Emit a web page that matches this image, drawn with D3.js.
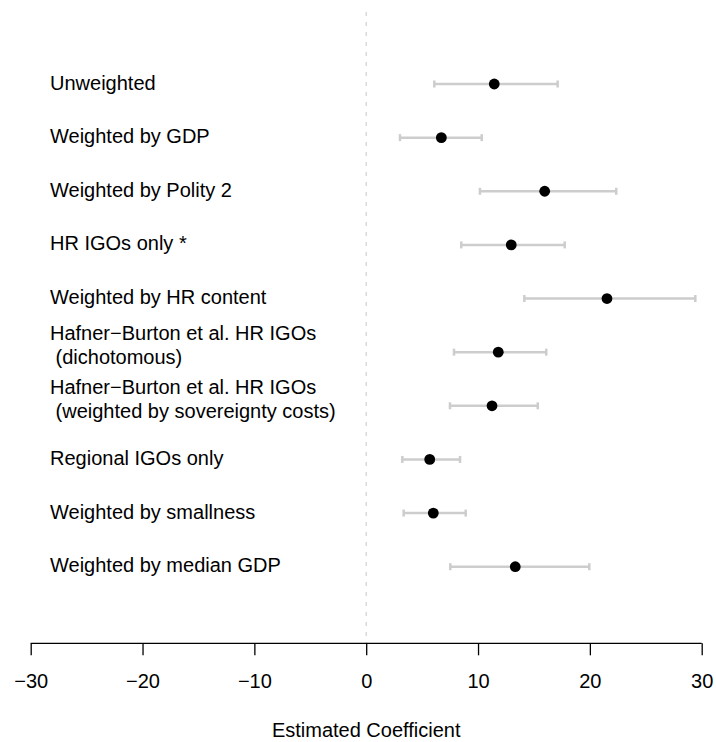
<!DOCTYPE html>
<html>
<head>
<meta charset="utf-8">
<script src="https://cdn.jsdelivr.net/npm/d3@7"></script>
<style>
  html, body { margin: 0; padding: 0; background: #fff; }
  svg { display: block; }
  text { font-family: "Liberation Sans", Arial, Helvetica, sans-serif; fill: #000; }
</style>
</head>
<body>
<svg id="chart" width="716" height="742"></svg>
<script>
// Model specifications (one row each, top to bottom)
const labels = [
  ["Unweighted"],
  ["Weighted by GDP"],
  ["Weighted by Polity 2"],
  ["HR IGOs only *"],
  ["Weighted by HR content"],
  ["Hafner\u2212Burton et al. HR IGOs", " (dichotomous)"],
  ["Hafner\u2212Burton et al. HR IGOs", " (weighted by sovereignty costs)"],
  ["Regional IGOs only"],
  ["Weighted by smallness"],
  ["Weighted by median GDP"]
];
// Point estimates and interval bounds
const estimates = [11.45, 6.72, 15.96, 12.97, 21.53, 11.81, 11.25, 5.68, 6.00, 13.33];
const lower     = [6.09, 3.02, 10.17, 8.50, 14.14, 7.85, 7.49, 3.23, 3.35, 7.52];
const upper     = [17.12, 10.33, 22.36, 17.75, 29.43, 16.10, 15.34, 8.39, 8.90, 19.95];
const xTicks = [-30, -20, -10, 0, 10, 20, 30];
const xTitle = "Estimated Coefficient";

const svg = d3.select("#chart");

const x = d3.scaleLinear().domain([-30, 30]).range([30.7, 701.7]);
const rows = d3.range(labels.length);
const y = d3.scaleLinear().domain([0, labels.length - 1]).range([84, 566.7]);

const plotTop = 12, plotBottom = 643.3;

// Reference line at zero
svg.append("line")
  .attr("x1", x(0)).attr("x2", x(0))
  .attr("y1", plotTop).attr("y2", plotBottom)
  .attr("stroke", "#c8c8c8")
  .attr("stroke-width", 1)
  .attr("stroke-dasharray", "4,6");

// Bottom axis
const axis = d3.axisBottom(x)
  .tickValues(xTicks)
  .tickSize(12)
  .tickPadding(20)
  .tickFormat(d => d < 0 ? "\u2212" + Math.abs(d) : String(d));

const gAxis = svg.append("g")
  .attr("transform", `translate(0,${plotBottom})`)
  .call(axis);
gAxis.select(".domain").attr("stroke", "#000").attr("stroke-width", 1.3)
  .attr("d", `M${x(-30)},0H${x(30)}`);
gAxis.selectAll(".tick line").attr("stroke", "#000").attr("stroke-width", 1.3);
gAxis.selectAll(".tick text")
  .attr("font-size", 20)
  .attr("font-family", "'Liberation Sans', Arial, sans-serif")
  .attr("fill", "#000")
  .attr("dy", null)
  .attr("y", 44.5);

svg.append("text")
  .attr("x", (x(-30) + x(30)) / 2)
  .attr("y", 737)
  .attr("text-anchor", "middle")
  .attr("font-size", 20)
  .text(xTitle);

// Interval bars with end caps
const bars = svg.append("g");
rows.forEach(i => {
  const yy = y(i);
  bars.append("line")
    .attr("x1", x(lower[i])).attr("x2", x(upper[i]))
    .attr("y1", yy).attr("y2", yy)
    .attr("stroke", "#cdcdcd").attr("stroke-width", 2.5);
  [lower[i], upper[i]].forEach(v => {
    bars.append("line")
      .attr("x1", x(v)).attr("x2", x(v))
      .attr("y1", yy - 3.5).attr("y2", yy + 3.5)
      .attr("stroke", "#cdcdcd").attr("stroke-width", 2.5);
  });
});

// Point estimates
svg.append("g").selectAll("circle")
  .data(rows)
  .join("circle")
  .attr("cx", i => x(estimates[i]))
  .attr("cy", i => y(i))
  .attr("r", 5.4)
  .attr("fill", "#000");

// Row labels
const gLab = svg.append("g");
rows.forEach(i => {
  const lines = labels[i];
  const t = gLab.append("text")
    .attr("x", 50)
    .attr("font-size", 20)
    .style("white-space", "pre");
  if (lines.length === 1) {
    t.attr("y", y(i) + 5.5).text(lines[0]);
  } else {
    lines.forEach((ln, k) => {
      t.append("tspan")
        .attr("x", 50)
        .attr("y", y(i) - 12.3 + k * 24)
        .text(ln);
    });
  }
});
</script>
</body>
</html>
